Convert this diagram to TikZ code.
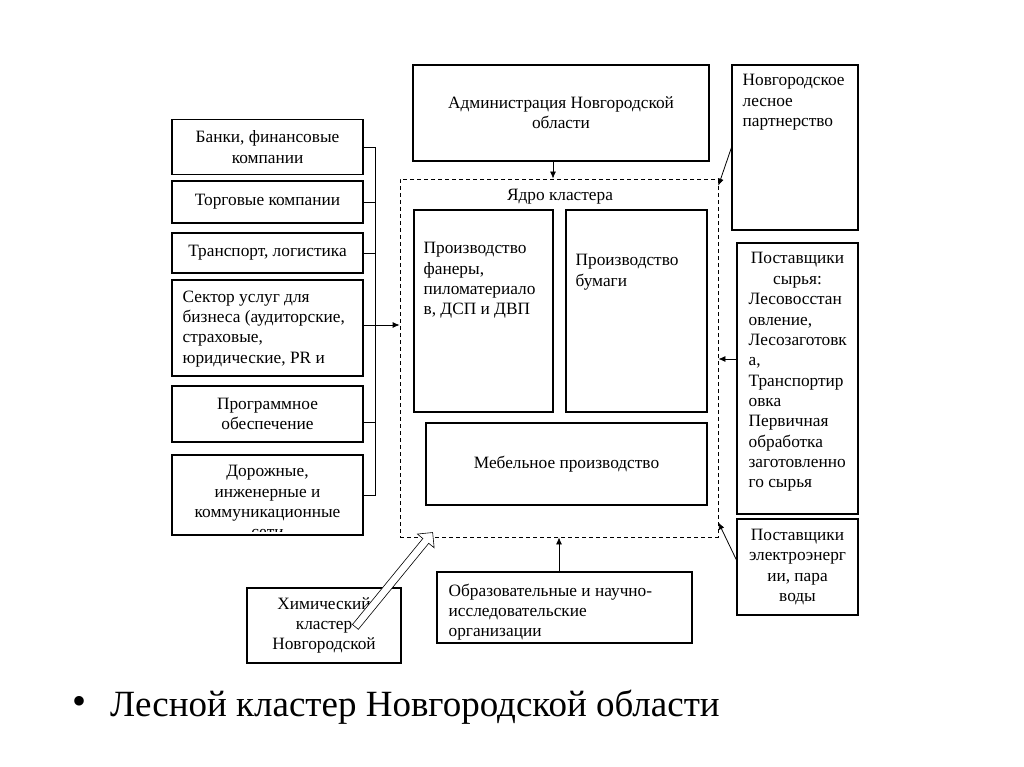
\documentclass[tikz,border=0pt]{standalone}
\usepackage{fontspec}
\setmainfont{Liberation Serif}
\usepackage{tikz}
\usetikzlibrary{positioning,arrows.meta,shapes.arrows,calc}

\newcommand{\boxfont}{\fontsize{17.3}{20.3}\selectfont}

\begin{document}
\begin{tikzpicture}[x=1pt,y=-1pt,
    box/.style={draw, line width=1.1pt, inner sep=0pt, font=\boxfont, align=center},
    txt/.style={inner sep=0pt, font=\boxfont, align=left},
    arr/.style={-{Latex[length=7pt,width=6pt]}, line width=0.8pt},
    hollow/.style={draw, single arrow, fill=white, line width=0.6pt, inner xsep=0pt, inner ysep=3.5pt,
      minimum width=0pt, single arrow head extend=7pt, single arrow head indent=0pt}]
    \useasboundingbox (0,0) rectangle (1024,767);
    % левая колонка
    \node[box, minimum width=191pt, minimum height=55pt] (bank) at (267.5,147) {Банки, финансовые\\компании};
    \node[box, minimum width=191pt, minimum height=42pt] (trade) at (267.5,202) {Торговые компании};
    \node[box, minimum width=191pt, minimum height=40pt] (transport) at (267.5,253) {Транспорт, логистика};
    \node[box, minimum width=191pt, minimum height=96pt] (sector) at (267.5,328) {};
    \node[txt, anchor=north west] (sectortext) at ([xshift=11pt,yshift=-11pt]sector.north west) {Сектор услуг для\\бизнеса (аудиторские,\\страховые,\\юридические, PR и};
    \node[box, minimum width=191pt, minimum height=56pt] (software) at (267.5,414) {Программное\\обеспечение};
    \node[box, minimum width=191pt, minimum height=80pt] (roads) at (267.5,495) {};
    \begin{scope}
      \clip ([yshift=1pt]roads.north west) rectangle ([yshift=4pt]roads.south east);
      \node[txt, align=center, anchor=north] (roadstext) at ([yshift=-11pt]roads.north) {Дорожные,\\инженерные и\\коммуникационные\\сети};
    \end{scope}
    % ядро кластера
    \node[draw, dash pattern=on 4pt off 3pt, line width=0.8pt, inner sep=0pt,
      minimum width=318pt, minimum height=358pt] (core) at (559,358) {};
    \node[txt] (corelabel) at (560,197) {Ядро кластера};
    \node[box, minimum width=139pt, minimum height=202pt] (plywood) at (483.5,311) {};
    \node[txt, anchor=north west] (plywoodtext) at ([xshift=10pt,yshift=-33pt]plywood.north west) {Производство\\фанеры,\\пиломатериало\\в, ДСП и ДВП};
    \node[box, minimum width=141pt, minimum height=202pt] (paper) at (636.5,311) {};
    \node[txt, anchor=north west] (papertext) at ([xshift=10pt,yshift=-45pt]paper.north west) {Производство\\бумаги};
    \node[box, minimum width=281pt, minimum height=82pt] (furniture) at (566.5,464) {Мебельное производство};
    % верх и правая колонка
    \node[box, minimum width=296pt, minimum height=96pt] (admin) at (561,113) {Администрация Новгородской\\области};
    \node[box, minimum width=126pt, minimum height=165pt] (partner) at (795,147.5) {};
    \node[txt, anchor=north west] (partnertext) at ([xshift=11pt,yshift=-10pt]partner.north west) {Новгородское\\лесное\\партнерство};
    \node[box, minimum width=121pt, minimum height=271pt] (supplies) at (797.5,378.5) {};
    \node[txt, align=center, anchor=north] (supphead) at ([yshift=-10pt]supplies.north) {Поставщики\\сырья:};
    \node[txt, anchor=north west] (suppbody) at ([xshift=12pt,yshift=-51pt]supplies.north west) {Лесовосстан\\овление,\\Лесозаготовк\\а,\\Транспортир\\овка\\Первичная\\обработка\\заготовленно\\го сырья};
    \node[box, minimum width=121pt, minimum height=96pt] (power) at (797.5,567) {Поставщики\\электроэнерг\\ии, пара\\воды};
    % низ
    \node[box, minimum width=154pt, minimum height=75pt] (chem) at (324,625.5) {Химический\\кластер\\Новгородской};
    \node[box, minimum width=255pt, minimum height=71pt] (educ) at (564.5,607.5) {};
    \node[txt, anchor=north west] (eductext) at ([xshift=12pt,yshift=-12pt]educ.north west) {Образовательные и научно-\\исследовательские\\организации};
    % скобка слева
    \coordinate (brk) at (375,0);
    \draw[line width=0.8pt] (bank.east) -- (bank.east -| brk) -- (roads.east -| brk) -- (roads.east);
    \foreach \n in {trade,transport}
      \draw[line width=0.8pt] (\n.east) -- (\n.east -| brk);
    \draw[line width=0.8pt] ([yshift=-8pt]software.east) -- ([yshift=-8pt]software.east -| brk);
    \draw[arr] ([yshift=3pt]sector.east) -- ([yshift=3pt]sector.east -| core.west);
    % стрелки
    \draw[arr] ([xshift=-8pt]admin.south) -- ([xshift=-8pt]admin.south |- core.north);
    \draw[arr] (partner.west) -- ([yshift=-7pt]core.north east);
    \draw[arr] ([yshift=19.5pt]supplies.west) -- ([yshift=19.5pt]supplies.west -| core.east);
    \draw[arr] ([yshift=7pt]power.west) -- ([yshift=15pt]core.south east);
    \draw[arr] ([xshift=-5.5pt]educ.north) -- ([xshift=-5.5pt]educ.north |- core.south);
    \coordinate (chemtail) at ([xshift=29pt,yshift=-2.5pt]chem.center);
    \coordinate (chemtip) at ([xshift=33pt,yshift=3pt]core.south west);
    \node[hollow, rotate=50.7, minimum height=122pt] (chemarrow) at ($(chemtail)!0.5!(chemtip)$) {};
    % заголовок
    \node[font=\fontsize{40}{40}\selectfont, inner sep=0pt] (bullet) at (80,705) {\textbullet};
    \node[font=\fontsize{37}{40}\selectfont, anchor=base west, inner sep=0pt] (title) at (110,716) {Лесной кластер Новгородской области};
\end{tikzpicture}
\end{document}
